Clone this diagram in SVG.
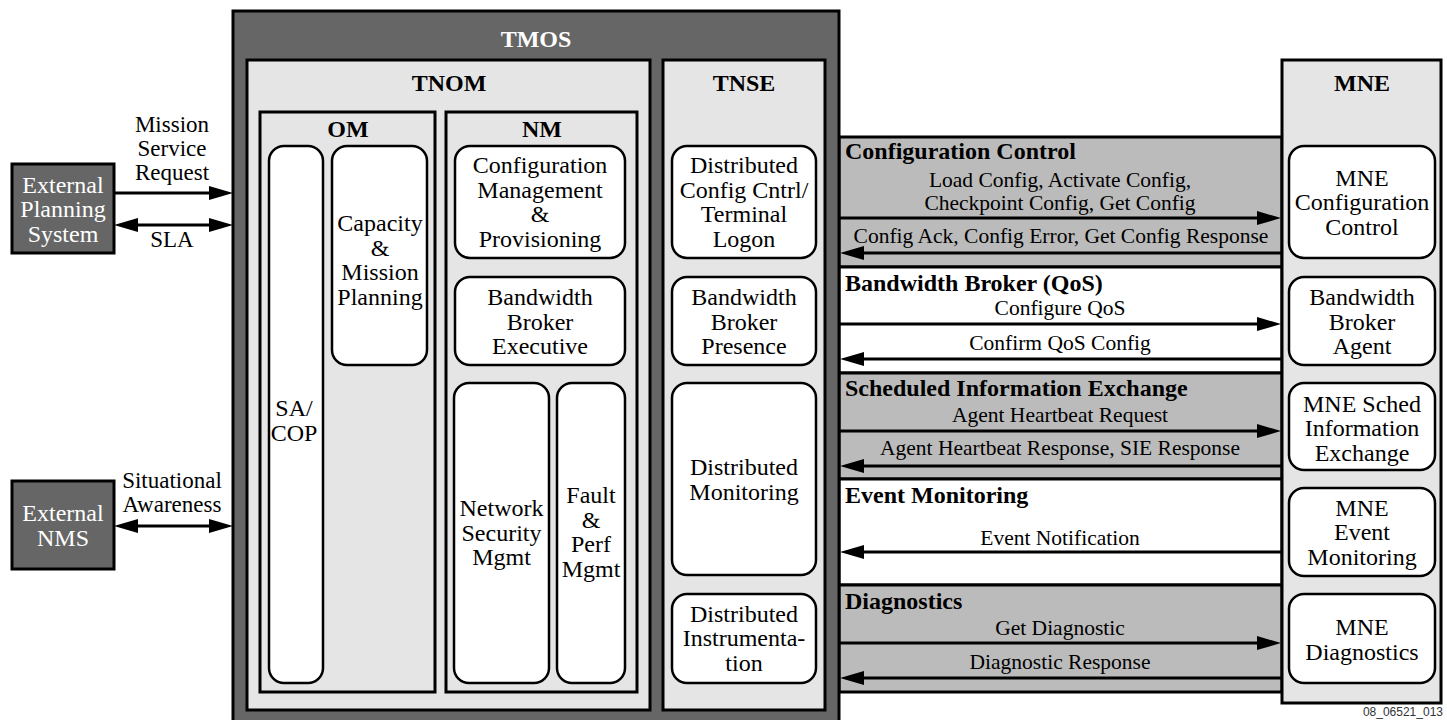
<svg xmlns="http://www.w3.org/2000/svg" width="1447" height="720" viewBox="0 0 1447 720" font-family="'Liberation Serif', 'Times New Roman', Times, serif">
  <defs>
    <marker id="ah" markerUnits="userSpaceOnUse" markerWidth="24" markerHeight="14" refX="14" refY="7" orient="auto-start-reverse">
      <path d="M0,0 L24,7 L0,14 Z" fill="#000"/>
    </marker>
  </defs>
  <style>
    .t{font-size:24px;text-anchor:middle;fill:#000}
    .b{font-weight:bold}
    .w{fill:#fff}
    .m{font-size:21.5px}
    .s{font-size:23px}
    .l{text-anchor:start}
    .cont{fill:#e5e5e5;stroke:#000;stroke-width:3}
    .node{fill:#fff;stroke:#000;stroke-width:2.5}
    .dark{fill:#666;stroke:#000;stroke-width:3}
    .bg{fill:#bbb;stroke:#000;stroke-width:3}
    .bw{fill:#fff;stroke:#000;stroke-width:3}
    .arr{stroke:#000;stroke-width:3;fill:none;marker-end:url(#ah)}
    .arr2{stroke:#000;stroke-width:3;fill:none;marker-start:url(#ah);marker-end:url(#ah)}
    .foot{font-size:12px;fill:#333;text-anchor:end}
  </style>
  <rect width="1447" height="720" fill="#fff"/>

  <!-- message bands between TMOS and MNE -->
  <g id="bands">
    <rect class="bg" x="839" y="137" width="443" height="130"/>
    <rect class="bw" x="839" y="267" width="443" height="106"/>
    <rect class="bg" x="839" y="373" width="443" height="106"/>
    <rect class="bw" x="839" y="479" width="443" height="106"/>
    <rect class="bg" x="839" y="585" width="443" height="107"/>
    <text class="t b l" x="845" y="159">Configuration Control</text>
    <text class="t b l" x="845" y="291">Bandwidth Broker (QoS)</text>
    <text class="t b l" x="845" y="396">Scheduled Information Exchange</text>
    <text class="t b l" x="845" y="503">Event Monitoring</text>
    <text class="t b l" x="845" y="609">Diagnostics</text>
  </g>

  <!-- TMOS container -->
  <g id="tmos">
    <rect class="dark" x="233" y="11" width="606" height="716"/>
    <text class="t b w" x="536" y="47">TMOS</text>
  </g>

  <g id="tnom">
    <rect class="cont" x="247" y="60" width="403" height="650"/>
    <text class="t b" x="449" y="91">TNOM</text>
  </g>

  <g id="om">
    <rect class="cont" x="260" y="112" width="175" height="580"/>
    <text class="t b" x="348" y="137">OM</text>
  </g>
  <g id="sa-cop">
    <rect class="node" x="269" y="146" width="54" height="537" rx="15"/>
    <text class="t" y="416"><tspan x="294">SA/</tspan><tspan x="294" dy="24.5">COP</tspan></text>
  </g>
  <g id="capacity">
    <rect class="node" x="332" y="146" width="95" height="219" rx="15"/>
    <text class="t" y="231"><tspan x="380">Capacity</tspan><tspan x="380" dy="24.5">&amp;</tspan><tspan x="380" dy="24.5">Mission</tspan><tspan x="380" dy="24.5">Planning</tspan></text>
  </g>

  <g id="nm">
    <rect class="cont" x="446" y="112" width="191" height="580"/>
    <text class="t b" x="542" y="137">NM</text>
  </g>
  <g id="config-mgmt">
    <rect class="node" x="455" y="146" width="170" height="112" rx="15"/>
    <text class="t" y="173"><tspan x="540">Configuration</tspan><tspan x="540" dy="24.5">Management</tspan><tspan x="540" dy="24.5">&amp;</tspan><tspan x="540" dy="24.5">Provisioning</tspan></text>
  </g>
  <g id="bb-exec">
    <rect class="node" x="455" y="277" width="170" height="88" rx="15"/>
    <text class="t" y="305"><tspan x="540">Bandwidth</tspan><tspan x="540" dy="24.5">Broker</tspan><tspan x="540" dy="24.5">Executive</tspan></text>
  </g>
  <g id="net-sec">
    <rect class="node" x="454" y="383" width="95" height="300" rx="15"/>
    <text class="t" y="516"><tspan x="501.5">Network</tspan><tspan x="501.5" dy="24.5">Security</tspan><tspan x="501.5" dy="24.5">Mgmt</tspan></text>
  </g>
  <g id="fault-perf">
    <rect class="node" x="557" y="383" width="68" height="300" rx="15"/>
    <text class="t" y="503"><tspan x="591">Fault</tspan><tspan x="591" dy="24.5">&amp;</tspan><tspan x="591" dy="24.5">Perf</tspan><tspan x="591" dy="24.5">Mgmt</tspan></text>
  </g>

  <g id="tnse">
    <rect class="cont" x="663" y="60" width="162" height="650"/>
    <text class="t b" x="744" y="91">TNSE</text>
  </g>
  <g id="dist-config">
    <rect class="node" x="672" y="146" width="144" height="112" rx="15"/>
    <text class="t" y="173"><tspan x="744">Distributed</tspan><tspan x="744" dy="24.5">Config Cntrl/</tspan><tspan x="744" dy="24.5">Terminal</tspan><tspan x="744" dy="24.5">Logon</tspan></text>
  </g>
  <g id="bb-presence">
    <rect class="node" x="672" y="277" width="144" height="88" rx="15"/>
    <text class="t" y="305"><tspan x="744">Bandwidth</tspan><tspan x="744" dy="24.5">Broker</tspan><tspan x="744" dy="24.5">Presence</tspan></text>
  </g>
  <g id="dist-monitoring">
    <rect class="node" x="672" y="383" width="144" height="192" rx="15"/>
    <text class="t" y="475"><tspan x="744">Distributed</tspan><tspan x="744" dy="24.5">Monitoring</tspan></text>
  </g>
  <g id="dist-instr">
    <rect class="node" x="672" y="594" width="144" height="89" rx="15"/>
    <text class="t" y="621.5"><tspan x="744">Distributed</tspan><tspan x="744" dy="24.5">Instrumenta-</tspan><tspan x="744" dy="24.5">tion</tspan></text>
  </g>

  <!-- MNE container -->
  <g id="mne">
    <rect class="cont" x="1282" y="60" width="159" height="643"/>
    <text class="t b" x="1362" y="91">MNE</text>
  </g>
  <g id="mne-config">
    <rect class="node" x="1289" y="146" width="146" height="112" rx="15"/>
    <text class="t" y="185.5"><tspan x="1362">MNE</tspan><tspan x="1362" dy="24.5">Configuration</tspan><tspan x="1362" dy="24.5">Control</tspan></text>
  </g>
  <g id="bb-agent">
    <rect class="node" x="1289" y="277" width="146" height="88" rx="15"/>
    <text class="t" y="305"><tspan x="1362">Bandwidth</tspan><tspan x="1362" dy="24.5">Broker</tspan><tspan x="1362" dy="24.5">Agent</tspan></text>
  </g>
  <g id="mne-sie">
    <rect class="node" x="1289" y="383" width="146" height="87" rx="15"/>
    <text class="t" y="411.5"><tspan x="1362">MNE Sched</tspan><tspan x="1362" dy="24.5">Information</tspan><tspan x="1362" dy="24.5">Exchange</tspan></text>
  </g>
  <g id="mne-event">
    <rect class="node" x="1289" y="488" width="146" height="88" rx="15"/>
    <text class="t" y="515.5"><tspan x="1362">MNE</tspan><tspan x="1362" dy="24.5">Event</tspan><tspan x="1362" dy="24.5">Monitoring</tspan></text>
  </g>
  <g id="mne-diag">
    <rect class="node" x="1289" y="594" width="146" height="89" rx="15"/>
    <text class="t" y="635"><tspan x="1362">MNE</tspan><tspan x="1362" dy="24.5">Diagnostics</tspan></text>
  </g>

  <!-- external systems -->
  <g id="ext-planning">
    <rect class="dark" x="12" y="164" width="102" height="89"/>
    <text class="t w" y="192.5"><tspan x="63">External</tspan><tspan x="63" dy="24.5">Planning</tspan><tspan x="63" dy="24.5">System</tspan></text>
  </g>
  <g id="ext-nms">
    <rect class="dark" x="12" y="481" width="102" height="88"/>
    <text class="t w" y="521"><tspan x="63">External</tspan><tspan x="63" dy="24.5">NMS</tspan></text>
  </g>

  <!-- connectors -->
  <g id="connectors">
    <line class="arr" x1="114" y1="193" x2="223" y2="193"/>
    <line class="arr2" x1="124" y1="225" x2="223" y2="225"/>
    <line class="arr2" x1="124" y1="526" x2="223" y2="526"/>
    <text class="t s" y="132"><tspan x="172">Mission</tspan><tspan x="172" dy="24">Service</tspan><tspan x="172" dy="24">Request</tspan></text>
    <text class="t s" x="172" y="247">SLA</text>
    <text class="t s" y="488"><tspan x="172">Situational</tspan><tspan x="172" dy="24">Awareness</tspan></text>

    <line class="arr" x1="840" y1="218" x2="1271" y2="218"/>
    <line class="arr" x1="1281" y1="253" x2="850" y2="253"/>
    <line class="arr" x1="840" y1="324" x2="1271" y2="324"/>
    <line class="arr" x1="1281" y1="359" x2="850" y2="359"/>
    <line class="arr" x1="840" y1="431" x2="1271" y2="431"/>
    <line class="arr" x1="1281" y1="466" x2="850" y2="466"/>
    <line class="arr" x1="1281" y1="552" x2="850" y2="552"/>
    <line class="arr" x1="840" y1="643" x2="1271" y2="643"/>
    <line class="arr" x1="1281" y1="678" x2="850" y2="678"/>

    <text class="t m" x="1060" y="187">Load Config, Activate Config,</text>
    <text class="t m" x="1060" y="210">Checkpoint Config, Get Config</text>
    <text class="t m" x="1061" y="243">Config Ack, Config Error, Get Config Response</text>
    <text class="t m" x="1060" y="315">Configure QoS</text>
    <text class="t m" x="1060" y="350">Confirm QoS Config</text>
    <text class="t m" x="1060" y="422">Agent Heartbeat Request</text>
    <text class="t m" x="1060" y="455">Agent Heartbeat Response, SIE Response</text>
    <text class="t m" x="1060" y="545">Event Notification</text>
    <text class="t m" x="1060" y="635">Get Diagnostic</text>
    <text class="t m" x="1060" y="669">Diagnostic Response</text>
  </g>

  <text class="foot" x="1443" y="716" font-family="'Liberation Sans', Arial, sans-serif">08_06521_013</text>
</svg>
